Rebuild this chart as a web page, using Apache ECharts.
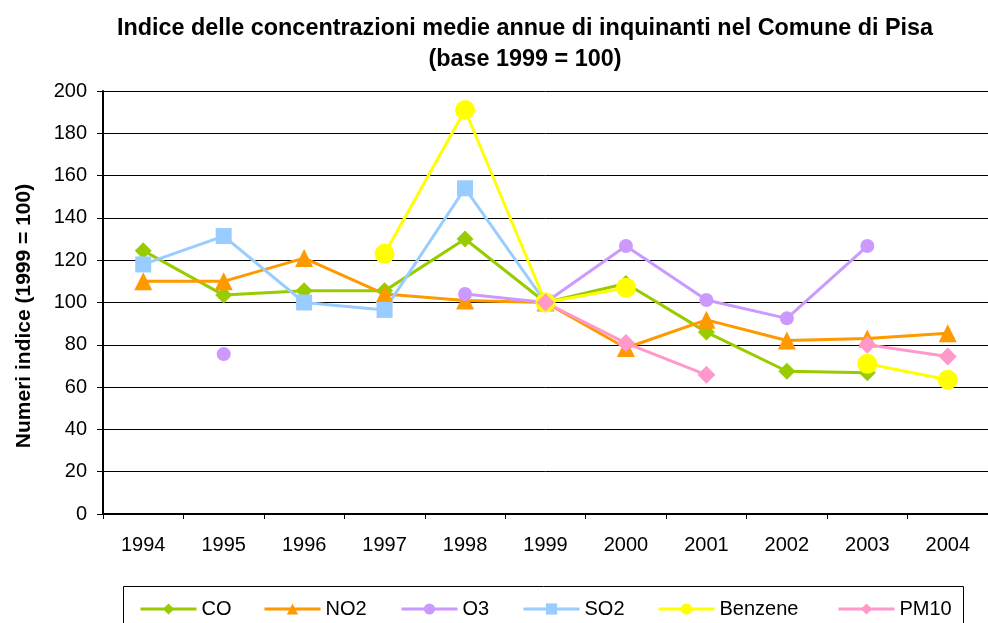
<!DOCTYPE html>
<html>
<head>
<meta charset="utf-8">
<title>Indice delle concentrazioni medie annue di inquinanti nel Comune di Pisa</title>
<script src="https://cdn.jsdelivr.net/npm/echarts@6/dist/echarts.min.js"></script>
<style>
  html, body { margin: 0; padding: 0; background: #fff; }
  #chart { width: 988px; height: 623px; }
</style>
</head>
<body>
<div id="chart"></div>
<script>
// Anni e numeri indice (base 1999 = 100); null = dato non disponibile
const years = ['1994', '1995', '1996', '1997', '1998', '1999', '2000', '2001', '2002', '2003', '2004'];
const co      = [124.5, 103.5, 105.5, 105.5, 130, 100, 109, 86, 67.5, 66.8, null];
const no2     = [110, 110, 121, 104, 101, 100, 78.5, 91.8, 82, 83, 85.5];
const o3      = [null, 75.6, null, null, 104, 100, 126.7, 101.2, 92.5, 126.7, null];
const so2     = [118, 131.4, 100, 96.5, 154, 100, null, null, null, null, null];
const benzene = [null, null, null, 123, 191, 100, 107, null, null, 71, 63.5];
const pm10    = [null, null, null, null, null, 100, 80.8, 65.8, null, 80, 74.5];
const yTicks = [0, 20, 40, 60, 80, 100, 120, 140, 160, 180, 200];

const seriesNames = ['CO', 'NO2', 'O3', 'SO2', 'Benzene', 'PM10'];
const legendLeft = [134, 258, 395, 517, 652, 832];

const FONT = 'Liberation Sans, Arial, sans-serif';

function lineSeries(name, data, color, symbol, size) {
  return {
    name: name,
    type: 'line',
    data: data,
    connectNulls: false,
    symbol: symbol,
    symbolSize: size,
    lineStyle: { color: color, width: 3 },
    itemStyle: { color: color },
    emphasis: { disabled: true },
    animation: false
  };
}

// one legend entry per pollutant, laid out in a single row
const legends = seriesNames.map((n, i) => ({
  top: 594,
  left: legendLeft[i],
  itemWidth: 56,
  itemHeight: 14,
  lineStyle: { width: 3 },
  textStyle: { fontFamily: FONT, fontSize: 20, color: '#000' },
  data: [n]
}));

const chart = echarts.init(document.getElementById('chart'), null, { renderer: 'canvas' });

chart.setOption({
  backgroundColor: '#ffffff',
  title: {
    text: 'Indice delle concentrazioni medie annue di inquinanti nel Comune di Pisa\n(base 1999 = 100)',
    left: 520,
    textAlign: 'center',
    top: 8,
    textStyle: {
      fontFamily: FONT,
      fontSize: 23.4,
      fontWeight: 'bold',
      color: '#000',
      lineHeight: 31
    }
  },
  legend: legends,
  graphic: [
    {
      type: 'rect',
      shape: { x: 123.5, y: 586.5, width: 840, height: 60 },
      style: { fill: 'none', stroke: '#000', lineWidth: 1 },
      silent: true
    },
    {
      type: 'text',
      x: 24,
      y: 316,
      rotation: Math.PI / 2,
      style: {
        text: 'Numeri indice (1999 = 100)',
        font: 'bold 21px ' + FONT,
        fill: '#000',
        align: 'center',
        verticalAlign: 'middle'
      },
      silent: true
    }
  ],
  grid: {
    left: 103,
    top: 91,
    width: 887,
    height: 423,
    containLabel: false
  },
  xAxis: {
    type: 'category',
    data: years,
    boundaryGap: true,
    axisLine: { lineStyle: { color: '#000', width: 2 } },
    axisTick: { show: true, length: 5, lineStyle: { color: '#000' }, alignWithLabel: false },
    axisLabel: { fontFamily: FONT, fontSize: 20, color: '#000', margin: 21 },
    splitLine: { show: false }
  },
  yAxis: {
    type: 'value',
    min: yTicks[0],
    max: yTicks[yTicks.length - 1],
    interval: 20,
    axisLine: { show: true, lineStyle: { color: '#000', width: 2 } },
    axisTick: { show: true, length: 6, lineStyle: { color: '#000' } },
    axisLabel: { fontFamily: FONT, fontSize: 20, color: '#000', margin: 16 },
    splitLine: { show: true, lineStyle: { color: '#000', width: 1 } }
  },
  series: [
    lineSeries('CO', co, '#99CC00', 'diamond', 17),
    lineSeries('NO2', no2, '#FF9900', 'triangle', 18),
    lineSeries('O3', o3, '#CC99FF', 'circle', 14),
    lineSeries('SO2', so2, '#99CCFF', 'rect', 16),
    lineSeries('Benzene', benzene, '#FFFF00', 'circle', 20),
    lineSeries('PM10', pm10, '#FF99CC', 'diamond', 18)
  ]
});
</script>
</body>
</html>
